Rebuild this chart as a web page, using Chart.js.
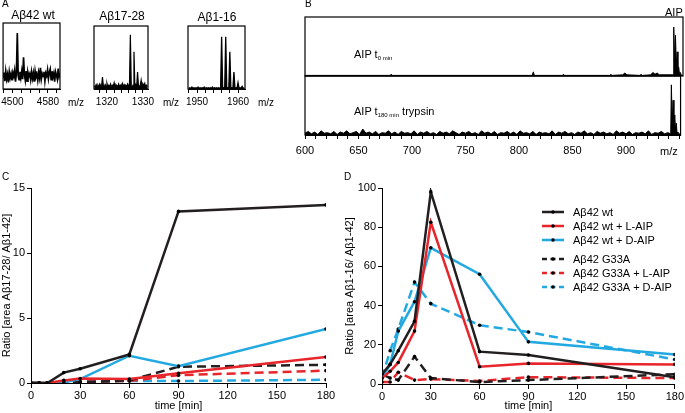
<!DOCTYPE html>
<html>
<head>
<meta charset="utf-8">
<script src="https://cdn.jsdelivr.net/npm/chart.js@4.4.1/dist/chart.umd.min.js"></script>
<style>
  body { margin: 0; background: #fff; }
  #page { position: relative; width: 685px; height: 413px; overflow: hidden; font-family: "Liberation Sans", Arial, sans-serif; color: #000; }
  #page canvas { position: absolute; left: 0; top: 0; }
  .t { position: absolute; line-height: 1; white-space: nowrap; }
  .sub { font-size: 6px; vertical-align: -2px; }
</style>
</head>
<body>
<div id="page">
  <canvas id="a1" width="685" height="413"></canvas>
  <canvas id="a2" width="685" height="413"></canvas>
  <canvas id="a3" width="685" height="413"></canvas>
  <canvas id="bTop" width="685" height="413"></canvas>
  <canvas id="bBot" width="685" height="413"></canvas>
  <canvas id="chartC" width="685" height="413"></canvas>
  <canvas id="chartD" width="685" height="413"></canvas>

  <div class="t" style="left:2px;top:-1.5px;font-size:10px">A</div>
  <div class="t" style="left:3px;top:8.5px;width:60px;text-align:center;font-size:12px">Aβ42 wt</div>
  <div class="t" style="left:92px;top:10px;width:60px;text-align:center;font-size:12px">Aβ17-28</div>
  <div class="t" style="left:187px;top:10.5px;width:60px;text-align:center;font-size:12px">Aβ1-16</div>
  <div class="t" style="left:68px;top:97.5px;font-size:10px">m/z</div>
  <div class="t" style="left:163px;top:97.5px;font-size:10px">m/z</div>
  <div class="t" style="left:258px;top:97.5px;font-size:10px">m/z</div>

  <div class="t" style="left:305px;top:-1.5px;font-size:10px">B</div>
  <div class="t" style="left:665px;top:6.5px;font-size:11px">AIP</div>
  <div class="t" style="left:354px;top:48.5px;font-size:11px">AIP t<span class="sub">0 min</span></div>
  <div class="t" style="left:354px;top:105.5px;font-size:11px">AIP t<span class="sub">180 min</span> trypsin</div>
  <div class="t" style="left:660px;top:145.5px;font-size:11px">m/z</div>

  <div class="t" style="left:2px;top:171.5px;font-size:10px">C</div>
  <div class="t" style="left:344px;top:171.5px;font-size:10px">D</div>
</div>
<script>
// ---- panel A spectra (relative intensity, % of box height) ----
const a1Mz = [4479, 4481, 4483, 4485, 4487, 4489, 4491, 4493, 4495, 4497,
  4499, 4501, 4503, 4505, 4507, 4509, 4511, 4513, 4515, 4517,
  4519, 4521, 4523, 4525, 4527, 4529, 4531, 4533, 4535, 4537,
  4539, 4541, 4543, 4545, 4547, 4549, 4551, 4553, 4555, 4557,
  4559, 4561, 4563, 4565, 4567, 4569, 4571, 4573, 4575, 4577,
  4579, 4581, 4583, 4585, 4587, 4589, 4591, 4593, 4595, 4597,
  4599, 4601, 4603, 4605, 4607];
const a1Int = [18, 25, 12, 27, 15, 22, 10, 26, 17, 23,
  13, 25, 19, 28, 11, 24, 85, 20, 14, 26,
  17, 27, 15, 48, 22, 13, 27, 12, 25, 19,
  23, 14, 26, 16, 24, 11, 27, 18, 22, 13,
  25, 17, 32, 15, 23, 19, 26, 12, 24, 20,
  29, 16, 25, 30, 14, 27, 18, 24, 11, 26,
  21, 15, 31, 19, 24];

const a2Mz = [1316.5, 1316.75, 1317, 1317.25, 1317.5, 1317.75, 1318, 1318.25, 1318.5, 1318.75,
  1319, 1319.25, 1319.5, 1319.75, 1320, 1320.25, 1320.5, 1320.75, 1321, 1321.25,
  1321.5, 1321.75, 1322, 1322.25, 1322.5, 1322.75, 1323, 1323.25, 1323.5, 1323.75,
  1324, 1324.25, 1324.5, 1324.75, 1325, 1325.25, 1325.5, 1325.75, 1326, 1326.25,
  1326.5, 1326.75, 1327, 1327.25, 1327.5, 1327.75, 1328, 1328.25, 1328.5, 1328.75,
  1329, 1329.25, 1329.5, 1329.75, 1330, 1330.25, 1330.5, 1330.75, 1331, 1331.25];
const a2Int = [5, 3, 7, 4, 6, 3, 8, 5, 4, 19,
  5, 3, 7, 4, 9, 3, 6, 4, 8, 3,
  6, 4, 10, 3, 7, 5, 4, 8, 3, 6,
  5, 9, 3, 7, 4, 6, 3, 8, 5, 4,
  86, 5, 3, 6, 59, 4, 7, 3, 27, 5,
  4, 6, 14, 3, 8, 5, 9, 3, 6, 4];

const a3Mz = [1948, 1948.25, 1948.5, 1948.75, 1949, 1949.25, 1949.5, 1949.75, 1950, 1950.25,
  1950.5, 1950.75, 1951, 1951.25, 1951.5, 1951.75, 1952, 1952.25, 1952.5, 1952.75,
  1953, 1953.25, 1953.5, 1953.75, 1954, 1954.25, 1954.5, 1954.75, 1955, 1955.25,
  1955.5, 1955.75, 1956, 1956.25, 1956.5, 1956.75, 1957, 1957.25, 1957.5, 1957.75,
  1958, 1958.25, 1958.5, 1958.75, 1959, 1959.25, 1959.5, 1959.75, 1960, 1960.25,
  1960.5, 1960.75, 1961, 1961.25, 1961.5];
const a3Int = [1, 2, 1, 3, 1, 2, 1, 2, 1, 3,
  1, 2, 1, 2, 1, 3, 1, 2, 1, 2,
  1, 2, 1, 3, 1, 2, 1, 2, 1, 2,
  1, 2, 83, 1, 2, 1, 83, 1, 2, 1,
  59, 1, 2, 1, 27, 1, 2, 1, 10, 1,
  2, 1, 4, 1, 2];

// ---- panel B spectra ----
const bTopMz = [600, 679, 680, 681, 811, 812, 813, 839, 840, 841, 883, 884, 885, 895, 897, 899,
  911, 912, 913, 921, 923, 925, 927, 929, 941.8, 942.4, 943.2, 944, 944.8, 945.6, 946.3, 947,
  947.7, 948.5, 949.5, 951];
const bTopInt = [1, 1, 3, 1, 1, 7, 1, 1, 3, 1, 1, 3, 1, 2, 5, 2,
  1, 3, 1, 2, 6, 3, 5, 2, 2, 83, 25, 69, 18, 41, 10, 15,
  4, 6, 1, 1];

const bBotMz = [600, 603, 606, 609, 612, 615, 618, 621, 624, 627,
  630, 633, 636, 639, 642, 645, 648, 651, 654, 657,
  660, 663, 666, 669, 672, 675, 678, 681, 684, 687,
  690, 693, 696, 699, 702, 705, 708, 711, 714, 717,
  720, 723, 726, 729, 732, 735, 738, 741, 744, 747,
  750, 753, 756, 759, 762, 765, 768, 771, 774, 777,
  780, 783, 786, 789, 792, 795, 798, 801, 804, 807,
  810, 813, 816, 819, 822, 825, 828, 831, 834, 837,
  840, 843, 846, 849, 852, 855, 858, 861, 864, 867,
  870, 873, 876, 879, 882, 885, 888, 891, 894, 897,
  900, 903, 906, 909, 912, 915, 918, 921, 924, 927,
  930, 933, 936, 939,
  941.8, 942.4, 943.2, 944, 944.8, 945.6, 946.3, 947, 947.7, 948.5, 949.5, 951];
const bBotInt = [3, 6, 2, 5, 1, 7, 3, 4, 2, 6,
  1, 5, 3, 7, 2, 4, 6, 1, 10, 3,
  5, 2, 6, 1, 4, 3, 7, 2, 5, 1,
  6, 3, 4, 2, 7, 1, 5, 3, 6, 2,
  4, 1, 6, 3, 5, 2, 7, 4, 1, 5,
  3, 6, 2, 4, 1, 7, 3, 5, 2, 6,
  1, 4, 3, 6, 2, 5, 1, 7, 3, 4,
  2, 6, 1, 5, 3, 4, 2, 7, 1, 5,
  3, 6, 2, 4, 1, 5, 3, 7, 2, 4,
  1, 6, 3, 5, 2, 4, 1, 7, 3, 5,
  2, 6, 1, 4, 3, 5, 2, 7, 1, 4,
  3, 6, 2, 4,
  2, 85, 20, 59, 14, 34, 8, 20, 4, 5, 2, 1];

// ---- panels C and D: time courses ----
const timePoints = [0, 5, 10, 20, 30, 60, 90, 180];
const seriesNames = ["Aβ42 wt", "Aβ42 wt + L-AIP", "Aβ42 wt + D-AIP",
  "Aβ42 G33A", "Aβ42 G33A + L-AIP", "Aβ42 G33A + D-AIP"];

const cWt = [0, 0, 0, 0.8, 1.1, 2.2, 13.2, 13.7];
const cWtL = [0, 0, 0, 0.2, 0.35, 0.3, 0.75, 2.0];
const cWtD = [0, 0, 0, 0.05, 0.3, 2.1, 1.3, 4.15];
const cG = [0, 0, 0, 0.1, 0.05, 0.2, 1.25, 1.4];
const cGL = [0, 0, 0, 0.05, 0.1, 0.15, 0.6, 0.95];
const cGD = [0, 0, 0, 0.05, 0.1, 0.15, 0.15, 0.25];

const dWt = [5, 10, 17, 32, 98, 16.5, 14.8, 3.5];
const dWtL = [3, 6.5, 11, 27, 82.5, 8.8, 10.5, 10];
const dWtD = [3, 10, 27, 42, 69.5, 56, 21.5, 15];
const dG = [5, 3, 2, 14, 3, 1, 2, 5];
const dGL = [1, 1, 6, 2, 2.5, 1.5, 3.5, 3];
const dGD = [3, 17, 28, 52, 41, 30, 26.5, 12.5];

const W = 685, H = 413;
const BLACK = "#231f20", RED = "#e8252b", BLUE = "#23a9e1";

Chart.defaults.font.family = '"Liberation Sans", Arial, sans-serif';
Chart.defaults.color = "#000";

const framePlugin = {
  id: "frame",
  afterDraw(chart) {
    const { ctx, chartArea: a } = chart;
    ctx.save();
    ctx.strokeStyle = "#000";
    ctx.lineWidth = 1.2;
    ctx.strokeRect(a.left, a.top, a.right - a.left, a.bottom - a.top);
    ctx.restore();
  },
};

function spectrum(id, mz, inten, box, xo) {
  const [l, t, r, b] = box;
  const xh = xo.show ? xo.height : 0;
  const xScale = {
    type: "linear",
    min: xo.min,
    max: xo.max,
    display: !!xo.show,
  };
  if (xo.show) {
    Object.assign(xScale, {
      ticks: {
        stepSize: xo.step,
        includeBounds: false,
        autoSkip: false,
        maxRotation: 0,
        padding: xo.pad,
        font: { size: xo.font },
        color: "#000",
        callback: (v) => (xo.labels.includes(v) ? String(v) : ""),
      },
      grid: { drawOnChartArea: false, tickLength: xo.tick, color: "#000" },
      border: { color: "#000" },
      afterFit: (s) => { s.height = xo.height; },
    });
  }
  return new Chart(document.getElementById(id), {
    type: "line",
    data: {
      datasets: [{
        data: mz.map((m, i) => ({ x: m, y: inten[i] })),
        borderColor: "#000",
        backgroundColor: "#000",
        borderWidth: xo.lw || 1,
        fill: xo.fill ? "origin" : false,
        pointRadius: 0,
        tension: 0,
      }],
    },
    options: {
      responsive: false,
      animation: false,
      events: [],
      layout: { padding: { left: l, top: t, right: W - r, bottom: H - b - xh } },
      plugins: { legend: { display: false }, tooltip: { enabled: false } },
      scales: { x: xScale, y: { display: false, min: 0, max: 100 } },
    },
    plugins: [framePlugin],
  });
}

spectrum("a1", a1Mz, a1Int, [2, 23, 60, 89],
  { show: true, min: 4479, max: 4607, step: 20, labels: [4500, 4580], height: 20, tick: 4, pad: 3.5, font: 10, lw: 1.7 });
spectrum("a2", a2Mz, a2Int, [94, 26, 148, 89],
  { show: true, min: 1316.4, max: 1331.4, step: 2, labels: [1320, 1330], height: 20, tick: 4, pad: 3.5, font: 10, lw: 1.2, fill: true });
spectrum("a3", a3Mz, a3Int, [188, 26, 245, 89],
  { show: true, min: 1947.8, max: 1961.7, step: 2, labels: [1950, 1960], height: 20, tick: 4, pad: 3.5, font: 10, lw: 1.3, fill: true });
spectrum("bTop", bTopMz, bTopInt, [305, 17, 683, 76], { show: false, min: 600, max: 951, lw: 1, fill: true });
spectrum("bBot", bBotMz, bBotInt, [305, 76, 683, 135],
  { show: true, min: 600, max: 951, step: 10, labels: [600, 650, 700, 750, 800, 850, 900], height: 22, tick: 4, pad: 5.5, font: 11, lw: 1, fill: true });

// ---- C and D ----
function lineSet(label, values, color, dashed) {
  return {
    label,
    data: timePoints.map((t, i) => ({ x: t, y: values[i] })),
    borderColor: color,
    borderWidth: 2.5,
    borderDash: dashed ? [9, 5] : [],
    pointRadius: 1.8,
    pointBorderWidth: 0,
    pointBackgroundColor: "#000",
    tension: 0,
  };
}

function timeChart(id, sets, yMax, yStep, yTitle, pad, yWidth, xHeight, extra) {
  return new Chart(document.getElementById(id), {
    type: "line",
    data: { datasets: sets },
    options: {
      responsive: false,
      animation: false,
      events: [],
      layout: { padding: pad },
      plugins: { legend: { display: false }, tooltip: { enabled: false } },
      scales: {
        x: {
          type: "linear", min: 0, max: 180,
          ticks: { stepSize: 30, padding: 1, autoSkip: false, maxRotation: 0, font: { size: 11 }, color: "#000" },
          grid: { drawOnChartArea: false, tickLength: 5, color: "#000" },
          border: { color: "#000" },
          title: { display: true, text: "time [min]", font: { size: 11 }, color: "#000", padding: 0 },
          afterFit: (s) => { s.height = xHeight; },
        },
        y: {
          min: 0, max: yMax,
          ticks: { stepSize: yStep, padding: 2, font: { size: 11 }, color: "#000" },
          grid: { drawOnChartArea: false, tickLength: 4, color: "#000" },
          border: { color: "#000" },
          title: { display: true, text: yTitle, font: { size: 11 }, color: "#000", padding: 0 },
          afterFit: (s) => { s.width = yWidth; },
        },
      },
    },
    plugins: extra || [],
  });
}

const sideLegend = {
  id: "sideLegend",
  afterDraw(chart) {
    const ctx = chart.ctx;
    const rows = [212, 226, 240, 259, 273, 287];
    chart.data.datasets.forEach((ds, i) => {
      const y = rows[i];
      ctx.save();
      ctx.strokeStyle = ds.borderColor;
      ctx.lineWidth = ds.borderWidth;
      ctx.setLineDash(ds.borderDash.length ? [5, 3.5] : []);
      ctx.beginPath();
      ctx.moveTo(542, y);
      ctx.lineTo(564, y);
      ctx.stroke();
      ctx.setLineDash([]);
      ctx.fillStyle = "#000";
      ctx.beginPath();
      ctx.arc(553, y, 1.8, 0, Math.PI * 2);
      ctx.fill();
      ctx.font = '11px "Liberation Sans", Arial, sans-serif';
      ctx.textBaseline = "middle";
      ctx.fillText(ds.label, 573, y + 0.5);
      ctx.restore();
    });
  },
};

timeChart("chartC", [
  lineSet(seriesNames[0], cWt, BLACK, false),
  lineSet(seriesNames[1], cWtL, RED, false),
  lineSet(seriesNames[2], cWtD, BLUE, false),
  lineSet(seriesNames[3], cG, BLACK, true),
  lineSet(seriesNames[4], cGL, RED, true),
  lineSet(seriesNames[5], cGD, BLUE, true),
], 15, 5, "Ratio [area Aβ17-28/ Aβ1-42]", { left: 0, top: 188, right: W - 326, bottom: 0 }, 31, 30);

timeChart("chartD", [
  lineSet(seriesNames[0], dWt, BLACK, false),
  lineSet(seriesNames[1], dWtL, RED, false),
  lineSet(seriesNames[2], dWtD, BLUE, false),
  lineSet(seriesNames[3], dG, BLACK, true),
  lineSet(seriesNames[4], dGL, RED, true),
  lineSet(seriesNames[5], dGD, BLUE, true),
], 100, 20, "Ratio [area Aβ1-16/ Aβ1-42]", { left: 343, top: 188, right: 9, bottom: 0 }, 39, 29, [sideLegend]);
</script>
</body>
</html>
